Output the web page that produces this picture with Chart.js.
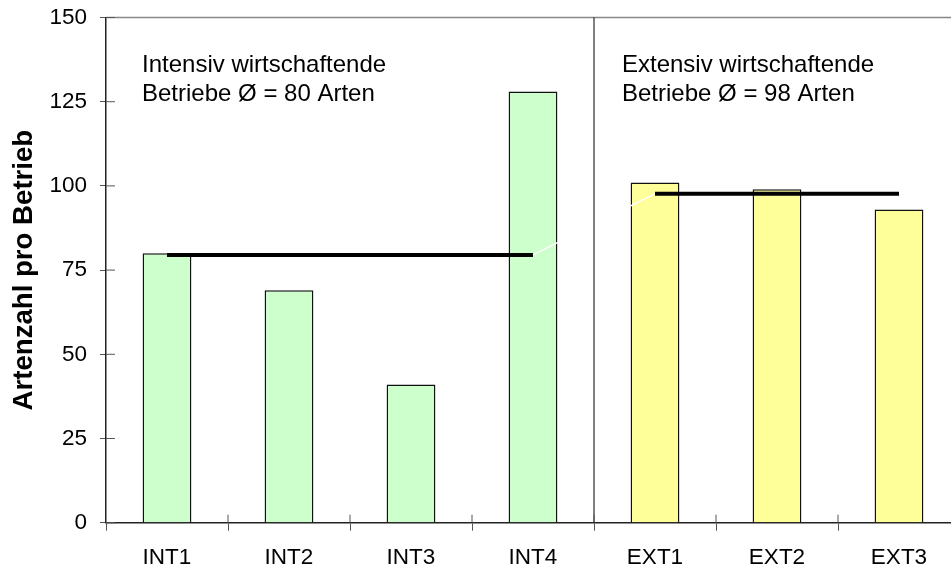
<!DOCTYPE html>
<html>
<head>
<meta charset="utf-8">
<script src="https://cdn.jsdelivr.net/npm/chart.js@4"></script>
<style>
  body { margin: 0; background: #fff; overflow: hidden; }
  #wrap { width: 965px; height: 571px; }
</style>
</head>
<body>
<div id="wrap"><canvas id="myChart"></canvas></div>
<script>
// Data
const categories = ['INT1', 'INT2', 'INT3', 'INT4', 'EXT1', 'EXT2', 'EXT3'];
const artenzahl = [80, 69, 41, 128, 101, 99, 93];
const mittelwert = [79.5, 79.5, 79.5, 79.5, 97.7, 97.7, 97.7];
const yTicks = [0, 25, 50, 75, 100, 125, 150];
const gruppen = ['INT', 'INT', 'INT', 'INT', 'EXT', 'EXT', 'EXT'];
const gruppenText = [
    ['Intensiv wirtschaftende', 'Betriebe Ø = 80 Arten'],
    ['Extensiv wirtschaftende', 'Betriebe Ø = 98 Arten']
];

const FONT = "'Liberation Sans', Arial, sans-serif";
const green = '#ccffcc';
const yellow = '#ffff99';

// inner tick halves, top border, separator and the group texts
const extras = {
    id: 'extras',
    afterDatasetsDraw(chart) {
        const ctx = chart.ctx;
        const area = chart.chartArea;
        const x = chart.scales.x;
        const y = chart.scales.y;
        ctx.save();

        // top border
        ctx.strokeStyle = '#888';
        ctx.lineWidth = 1.5;
        ctx.beginPath();
        ctx.moveTo(area.left, area.top);
        ctx.lineTo(area.right, area.top);
        ctx.stroke();

        // separator between INT and EXT
        const sep = (x.getPixelForValue(3) + x.getPixelForValue(4)) / 2;
        ctx.strokeStyle = '#000';
        ctx.lineWidth = 1;
        ctx.beginPath();
        ctx.moveTo(sep, area.top);
        ctx.lineTo(sep, area.bottom);
        ctx.stroke();

        // tick marks crossing into the plot
        ctx.strokeStyle = '#555';
        ctx.lineWidth = 1;
        ctx.beginPath();
        yTicks.forEach(v => {
            const py = y.getPixelForValue(v);
            ctx.moveTo(area.left, py);
            ctx.lineTo(area.left + 9, py);
        });
        for (let i = 0; i < categories.length - 1; i++) {
            const px = (x.getPixelForValue(i) + x.getPixelForValue(i + 1)) / 2;
            ctx.moveTo(px, area.bottom);
            ctx.lineTo(px, area.bottom - 8);
        }
        ctx.stroke();

        // group texts
        ctx.fillStyle = '#000';
        ctx.font = '24px ' + FONT;
        ctx.textAlign = 'left';
        ctx.textBaseline = 'alphabetic';
        const starts = [area.left + 36, sep + 28];
        gruppenText.forEach((lines, g) => {
            lines.forEach((t, k) => {
                ctx.fillText(t, starts[g], 72 + k * 29);
            });
        });
        ctx.restore();
    }
};

const ctx = document.getElementById('myChart').getContext('2d');
const myChart = new Chart(ctx, {
    data: {
        labels: categories,
        datasets: [{
            type: 'line',
            data: mittelwert,
            borderColor: '#000',
            borderWidth: 4,
            pointRadius: 0,
            tension: 0,
            order: 0,
            segment: {
                borderColor: c => c.p0DataIndex === 3 ? '#fff' : '#000',
                borderWidth: c => c.p0DataIndex === 3 ? 1.5 : 4
            }
        }, {
            type: 'bar',
            data: artenzahl,
            backgroundColor: gruppen.map(g => g === 'INT' ? green : yellow),
            borderColor: '#111',
            borderWidth: 1.5,
            borderSkipped: 'start',
            barPercentage: 0.4,
            categoryPercentage: 1,
            order: 1
        }]
    },
    options: {
        responsive: true,
        maintainAspectRatio: false,
        animation: false,
        layout: { padding: { top: 17.5, right: 5, left: 0, bottom: 0 } },
        plugins: {
            legend: { display: false },
            tooltip: { enabled: false }
        },
        scales: {
            x: {
                grid: {
                    offset: true,
                    drawOnChartArea: false,
                    tickLength: 8,
                    color: '#555'
                },
                border: { color: '#222', width: 1.5 },
                ticks: {
                    color: '#000',
                    padding: 14,
                    font: { family: FONT, size: 22.5 },
                    maxRotation: 0
                },
                afterFit(scale) {
                    scale.height = 48.3;
                    scale.paddingLeft = 0;
                    scale.paddingRight = 0;
                }
            },
            y: {
                min: 0,
                max: 150,
                afterBuildTicks(scale) { scale.ticks = yTicks.map(v => ({ value: v })); },
                grid: {
                    drawOnChartArea: false,
                    tickLength: 6,
                    color: '#555'
                },
                border: { color: '#222', width: 1.5 },
                ticks: {
                    color: '#000',
                    padding: 13,
                    font: { family: FONT, size: 22.5 }
                },
                title: {
                    display: true,
                    text: 'Artenzahl pro Betrieb',
                    color: '#000',
                    font: { family: FONT, size: 27.6, weight: 'bold' },
                    padding: { top: 8, bottom: 0 }
                },
                afterFit(scale) {
                    scale.width = 106;
                    scale.paddingTop = 0;
                    scale.paddingBottom = 0;
                }
            }
        }
    },
    plugins: [extras]
});
</script>
</body>
</html>
